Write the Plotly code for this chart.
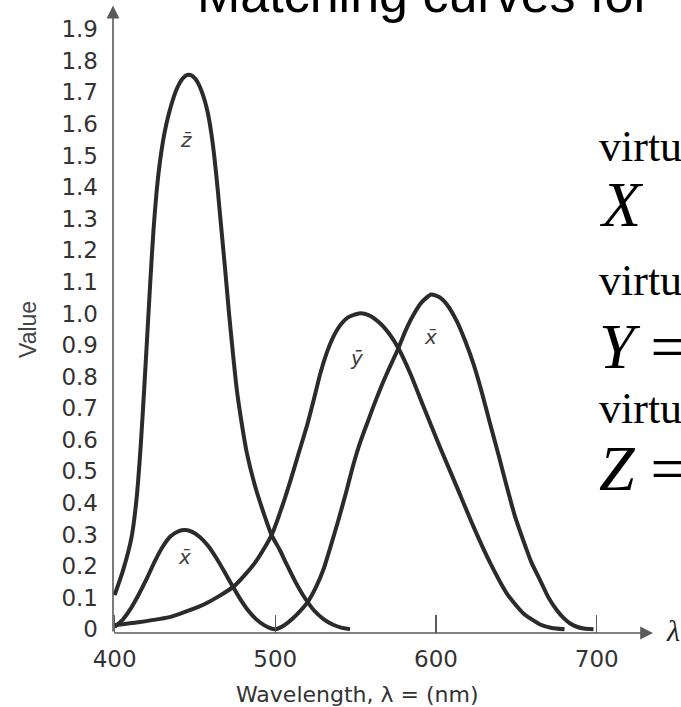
import plotly.graph_objects as go

# ---------------- data ----------------
z_bar_nm = [400, 405.3, 410.5, 413.6, 416.3, 418.4, 420.2, 422.2, 424.2, 426.2, 428.2, 430.2,
            432.2, 434.2, 436.2, 438.2, 440.2, 442.2, 444.2, 446.2, 448.2, 450.2, 452.2, 454.2,
            456.2, 458.2, 460.2, 462.2, 464.2, 466.2, 468.6, 471.2, 473.8, 476, 479, 482.2,
            487.3, 493.6, 497.7, 502.9, 507.1, 512.5, 518.5, 524, 530, 536, 541, 546.5]
z_bar_val = [0.108, 0.187, 0.290, 0.410, 0.585, 0.760, 0.920, 1.100, 1.265, 1.390, 1.480, 1.548,
             1.600, 1.641, 1.676, 1.705, 1.727, 1.743, 1.753, 1.756, 1.753, 1.743, 1.727, 1.703,
             1.672, 1.630, 1.570, 1.490, 1.390, 1.280, 1.150, 1.000, 0.865, 0.760, 0.655, 0.560,
             0.455, 0.355, 0.298, 0.250, 0.205, 0.150, 0.098, 0.060, 0.032, 0.014, 0.005, 0.0]

y_bar_nm = [400, 414.6, 435.4, 456.2, 473.8, 487.3, 497.7, 505, 510, 515, 520, 523.6, 528, 532,
            536, 540, 545, 552, 558, 565, 571, 576.6, 584, 592.2, 602.6, 613.0, 623.3, 633.7,
            644.1, 654.4, 664.8, 672, 680]
y_bar_val = [0.013, 0.022, 0.040, 0.080, 0.134, 0.210, 0.298, 0.400, 0.480, 0.565, 0.650, 0.720,
             0.810, 0.875, 0.925, 0.960, 0.987, 1.000, 0.995, 0.970, 0.935, 0.890, 0.810, 0.705,
             0.575, 0.450, 0.325, 0.210, 0.113, 0.050, 0.015, 0.004, 0.0]

x_bar_nm = [400, 405, 410, 415, 420, 425, 430, 435, 440, 444, 448, 453, 458, 463, 468, 473, 478,
            483, 488, 493, 497, 500, 503, 507, 511, 515, 520, 525, 530, 534, 539.5, 544.4, 548.5,
            552.7, 557, 561, 565, 569.4, 573, 576.6, 581, 585.9, 591, 597, 602, 607, 613, 618,
            623.3, 628.5, 633.7, 639, 644.1, 649, 654.4, 659.5, 664.8, 670, 675.2, 679.5, 683.5,
            688, 692, 698]
x_bar_val = [0.007, 0.030, 0.065, 0.110, 0.160, 0.215, 0.262, 0.295, 0.311, 0.314, 0.309, 0.292,
             0.265, 0.228, 0.185, 0.140, 0.097, 0.060, 0.032, 0.013, 0.003, 0.0, 0.005, 0.018,
             0.035, 0.055, 0.085, 0.130, 0.190, 0.255, 0.350, 0.440, 0.520, 0.590, 0.650, 0.705,
             0.757, 0.810, 0.850, 0.890, 0.945, 0.995, 1.035, 1.060, 1.052, 1.027, 0.975, 0.915,
             0.840, 0.750, 0.650, 0.550, 0.450, 0.360, 0.280, 0.210, 0.155, 0.100, 0.060, 0.035,
             0.018, 0.007, 0.002, 0.0]

x_ticks = [400, 500, 600, 700]
x_tick_text = ["400", "500", "600", "700"]
y_label_vals = [0, 0.1, 0.2, 0.3, 0.4, 0.5, 0.6, 0.7, 0.8, 0.9, 1.0, 1.1, 1.2, 1.3, 1.4, 1.5, 1.6, 1.7, 1.8, 1.9]
y_label_text = ["0", "0.1", "0.2", "0.3", "0.4", "0.5", "0.6", "0.7", "0.8", "0.9", "1.0",
                "1.1", "1.2", "1.3", "1.4", "1.5", "1.6", "1.7", "1.8", "1.9"]
y_tick_vals = y_label_vals[1:]

curve_labels = ["z\u0304", "y\u0304", "x\u0304", "x\u0304"]
curve_label_nm = [444.7, 550.7, 596.3, 443.7]
curve_label_val = [1.55, 0.858, 0.926, 0.229]

# ---------------- layout geometry ----------------
W, H = 681, 707
ML, MR, MT, MB = 113, 20, 4, 74
PW, PH = W - ML - MR, H - MT - MB
X_RANGE = [399, 740]
Y_RANGE = [-0.012, 1.98]


def px_x(px):
    return (px - ML) / PW


def px_y(py):
    return (H - MB - py) / PH


CURVE = "#2b2b2b"
AXIS = "#5a5a5a"
TXT = "#333333"

fig = go.Figure()
for nm, val in [(z_bar_nm, z_bar_val), (y_bar_nm, y_bar_val), (x_bar_nm, x_bar_val)]:
    fig.add_trace(go.Scatter(x=nm, y=val, mode="lines",
                             line=dict(color=CURVE, width=4, shape="spline", smoothing=0.6),
                             hoverinfo="skip", showlegend=False))

tick_font = dict(family="DejaVu Sans", size=23, color=TXT)
fig.update_layout(
    width=W, height=H,
    margin=dict(l=ML, r=MR, t=MT, b=MB, pad=0, autoexpand=False),
    paper_bgcolor="white", plot_bgcolor="white",
    showlegend=False,
    xaxis=dict(range=X_RANGE, showgrid=False, zeroline=False, showline=False, automargin=False,
               tickmode="array", tickvals=x_ticks, ticktext=x_tick_text,
               ticks="inside", ticklen=18, tickwidth=1.5, tickcolor=AXIS,
               tickfont=tick_font, ticklabelstandoff=10),
    yaxis=dict(range=Y_RANGE, showgrid=False, zeroline=False, showline=False, automargin=False,
               tickmode="array", tickvals=y_label_vals, ticktext=y_label_text,
               ticks="", tickfont=tick_font, ticklabelstandoff=14),
    yaxis2=dict(range=Y_RANGE, overlaying="y", anchor="x", side="left", automargin=False,
                showgrid=False, zeroline=False, showline=False,
                tickmode="array", tickvals=y_tick_vals, showticklabels=False,
                ticks="inside", ticklen=21, tickwidth=1.5, tickcolor=AXIS),
)

ann = []
# axis lines with arrowheads
ann.append(dict(x=735, y=Y_RANGE[0], ax=X_RANGE[0], ay=Y_RANGE[0], xref="x", yref="y",
                axref="x", ayref="y", text="", showarrow=True, arrowhead=2,
                arrowsize=1.6, arrowwidth=1.6, arrowcolor=AXIS))
ann.append(dict(x=X_RANGE[0], y=1.975, ax=X_RANGE[0], ay=Y_RANGE[0], xref="x", yref="y",
                axref="x", ayref="y", text="", showarrow=True, arrowhead=2,
                arrowsize=1.6, arrowwidth=1.6, arrowcolor=AXIS))
# curve labels
for t, xv, yv in zip(curve_labels, curve_label_nm, curve_label_val):
    ann.append(dict(x=xv, y=yv, xref="x", yref="y", text="<i>" + t + "</i>", showarrow=False,
                    xanchor="center", yanchor="middle",
                    font=dict(family="DejaVu Sans", size=20, color="#404040")))
# axis titles
ann.append(dict(x=px_x(28), y=px_y(330), xref="paper", yref="paper", text="Value",
                textangle=-90, showarrow=False, xanchor="center", yanchor="middle",
                font=dict(family="Liberation Sans", size=23, color="#444444")))
ann.append(dict(x=px_x(357), y=px_y(694), xref="paper", yref="paper",
                text="Wavelength, \u03bb = (nm)", showarrow=False,
                xanchor="center", yanchor="middle",
                font=dict(family="DejaVu Sans", size=22, color=TXT)))
# lambda at the end of x axis
ann.append(dict(x=px_x(664), y=px_y(630), xref="paper", yref="paper", xanchor="left",
                yanchor="middle", text="<i>\u03bb</i>", showarrow=False,
                font=dict(family="Liberation Serif", size=30, color="#222222")))
# slide title (cut at the top)
ann.append(dict(x=px_x(195), y=px_y(25), xref="paper", yref="paper", xanchor="left",
                yanchor="bottom", text="Matching curves for", showarrow=False,
                font=dict(family="Liberation Sans", size=52, color="black")))
# slide side text (cut at the right)
side = [("virtu", 44, 146), ("<i>X</i>", 64, 204), ("virtu", 44, 280),
        ("<i>Y</i> =", 64, 346), ("virtu", 44, 408), ("<i>Z</i> =", 64, 468)]
for t, s, yc in side:
    ann.append(dict(x=px_x(597), y=px_y(yc), xref="paper", yref="paper", xanchor="left",
                    yanchor="middle", text=t, showarrow=False,
                    font=dict(family="Liberation Serif", size=s, color="black")))
fig.update_layout(annotations=ann)

fig.write_html("out.html", config={"displayModeBar": False, "staticPlot": True},
               post_script="document.body.style.margin='0';document.body.style.overflow='hidden';")
